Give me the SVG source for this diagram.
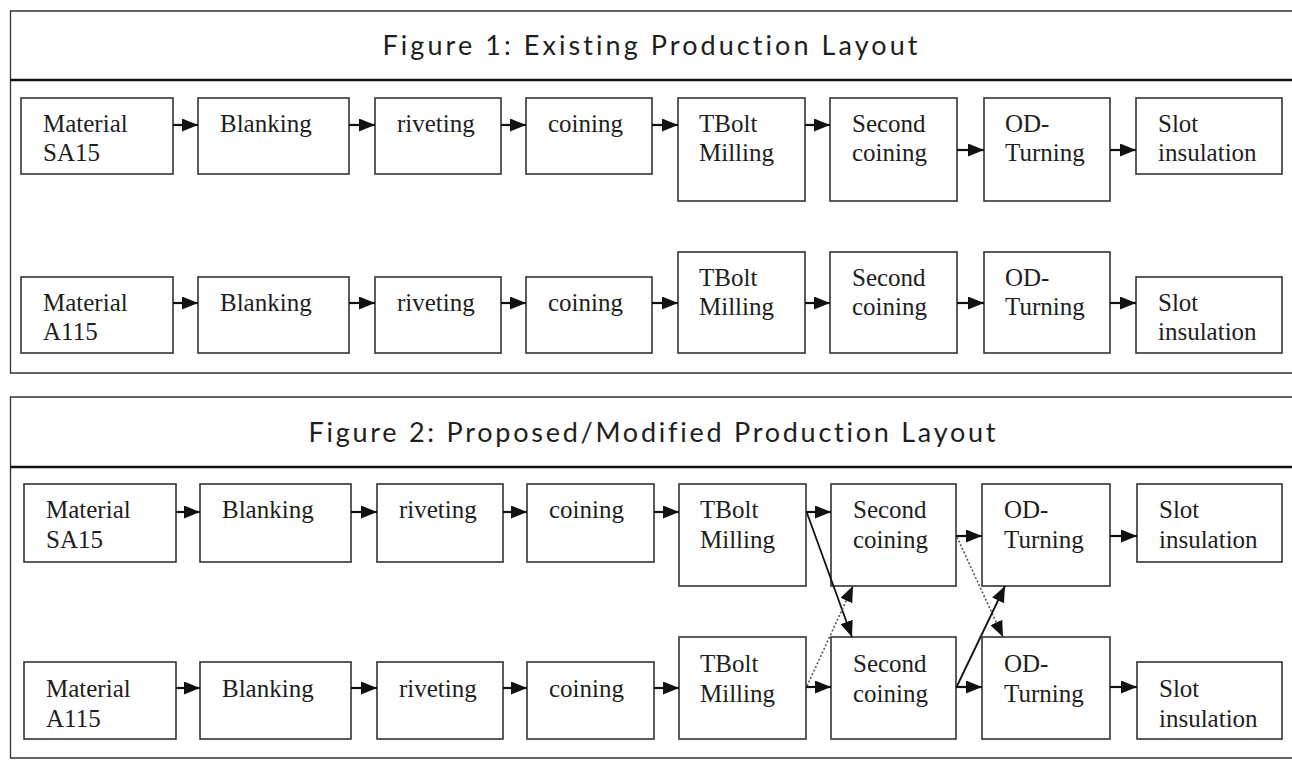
<svg xmlns="http://www.w3.org/2000/svg" width="1292" height="775" viewBox="0 0 1292 775">
<style>
.bg{fill:#ffffff}
.frame{fill:none;stroke:#333;stroke-width:1.3}
.sep{stroke:#111;stroke-width:2.4}
.title{font-family:Lato,"Open Sans","Liberation Sans",sans-serif;font-size:27px;fill:#1e1e1e;text-anchor:middle;font-variant-ligatures:none}
.box{fill:#fff;stroke:#333;stroke-width:1.6}
.lbl{font-family:"Liberation Serif","Times New Roman",serif;font-size:25px;fill:#1e1e1e}
.arr{stroke:#111;stroke-width:2.2;fill:none;marker-end:url(#ah)}
.dot{stroke:#555;stroke-width:1.6;stroke-dasharray:2 2;fill:none;marker-end:url(#ah)}
.sol{stroke:#111;stroke-width:1.8;fill:none;marker-end:url(#ah)}
</style>
<defs>
<marker id="ah" markerUnits="userSpaceOnUse" markerWidth="16" markerHeight="13" viewBox="0 0 16 13" refX="16" refY="6.5" orient="auto">
<path d="M0,0 L16,6.5 L0,13 z" fill="#111"/>
</marker>
</defs>
<rect class="bg" x="0" y="0" width="1292" height="775"/>

<g id="panel1">
<path class="frame" d="M1292,11 H10.5 V373 H1292"/>
<line class="sep" x1="10.5" y1="80" x2="1292" y2="80"/>
<text class="title" x="650" y="55" textLength="535" lengthAdjust="spacing">Figure 1: Existing Production Layout</text>
</g>
<g id="panel2">
<path class="frame" d="M1292,397 H10.5 V758 H1292"/>
<line class="sep" x1="10.5" y1="467" x2="1292" y2="467"/>
<text class="title" x="652" y="442" textLength="687" lengthAdjust="spacing">Figure 2: Proposed/Modified Production Layout</text>
</g>

<!-- Figure 1 row 1 -->
<g id="f1r1-material"><rect class="box" x="21" y="98" width="152" height="76"/><text class="lbl" x="43" y="132">Material<tspan x="43" y="161">SA15</tspan></text></g>
<g id="f1r1-blanking"><rect class="box" x="198" y="98" width="151" height="76"/><text class="lbl" x="220" y="132">Blanking</text></g>
<g id="f1r1-riveting"><rect class="box" x="375" y="98" width="126" height="76"/><text class="lbl" x="397" y="132">riveting</text></g>
<g id="f1r1-coining"><rect class="box" x="526" y="98" width="126" height="76"/><text class="lbl" x="548" y="132">coining</text></g>
<g id="f1r1-tbolt"><rect class="box" x="678" y="98" width="127" height="103"/><text class="lbl" x="699" y="132">TBolt<tspan x="699" y="161">Milling</tspan></text></g>
<g id="f1r1-second"><rect class="box" x="830" y="98" width="127" height="103"/><text class="lbl" x="852" y="132">Second<tspan x="852" y="161">coining</tspan></text></g>
<g id="f1r1-od"><rect class="box" x="984" y="98" width="126" height="103"/><text class="lbl" x="1005" y="132">OD-<tspan x="1005" y="161">Turning</tspan></text></g>
<g id="f1r1-slot"><rect class="box" x="1136" y="98" width="146" height="76"/><text class="lbl" x="1158" y="132">Slot<tspan x="1158" y="161">insulation</tspan></text></g>

<!-- Figure 1 row 2 -->
<g id="f1r2-material"><rect class="box" x="21" y="277" width="152" height="76"/><text class="lbl" x="43" y="311">Material<tspan x="43" y="340">A115</tspan></text></g>
<g id="f1r2-blanking"><rect class="box" x="198" y="277" width="151" height="76"/><text class="lbl" x="220" y="311">Blanking</text></g>
<g id="f1r2-riveting"><rect class="box" x="375" y="277" width="126" height="76"/><text class="lbl" x="397" y="311">riveting</text></g>
<g id="f1r2-coining"><rect class="box" x="526" y="277" width="126" height="76"/><text class="lbl" x="548" y="311">coining</text></g>
<g id="f1r2-tbolt"><rect class="box" x="678" y="252" width="127" height="101"/><text class="lbl" x="699" y="286">TBolt<tspan x="699" y="315">Milling</tspan></text></g>
<g id="f1r2-second"><rect class="box" x="830" y="252" width="127" height="101"/><text class="lbl" x="852" y="286">Second<tspan x="852" y="315">coining</tspan></text></g>
<g id="f1r2-od"><rect class="box" x="984" y="252" width="126" height="101"/><text class="lbl" x="1005" y="286">OD-<tspan x="1005" y="315">Turning</tspan></text></g>
<g id="f1r2-slot"><rect class="box" x="1136" y="277" width="146" height="76"/><text class="lbl" x="1158" y="311">Slot<tspan x="1158" y="340">insulation</tspan></text></g>

<!-- Figure 2 row 1 -->
<g id="f2r1-material"><rect class="box" x="24" y="484" width="152" height="78"/><text class="lbl" x="46" y="518">Material<tspan x="46" y="548">SA15</tspan></text></g>
<g id="f2r1-blanking"><rect class="box" x="200" y="484" width="151" height="78"/><text class="lbl" x="222" y="518">Blanking</text></g>
<g id="f2r1-riveting"><rect class="box" x="377" y="484" width="126" height="78"/><text class="lbl" x="399" y="518">riveting</text></g>
<g id="f2r1-coining"><rect class="box" x="527" y="484" width="127" height="78"/><text class="lbl" x="549" y="518">coining</text></g>
<g id="f2r1-tbolt"><rect class="box" x="679" y="484" width="127" height="102"/><text class="lbl" x="700" y="518">TBolt<tspan x="700" y="548">Milling</tspan></text></g>
<g id="f2r1-second"><rect class="box" x="831" y="484" width="125" height="102"/><text class="lbl" x="853" y="518">Second<tspan x="853" y="548">coining</tspan></text></g>
<g id="f2r1-od"><rect class="box" x="982" y="484" width="128" height="102"/><text class="lbl" x="1004" y="518">OD-<tspan x="1004" y="548">Turning</tspan></text></g>
<g id="f2r1-slot"><rect class="box" x="1137" y="484" width="145" height="78"/><text class="lbl" x="1159" y="518">Slot<tspan x="1159" y="548">insulation</tspan></text></g>

<!-- Figure 2 row 2 -->
<g id="f2r2-material"><rect class="box" x="24" y="662" width="152" height="77"/><text class="lbl" x="46" y="697">Material<tspan x="46" y="727">A115</tspan></text></g>
<g id="f2r2-blanking"><rect class="box" x="200" y="662" width="151" height="77"/><text class="lbl" x="222" y="697">Blanking</text></g>
<g id="f2r2-riveting"><rect class="box" x="377" y="662" width="126" height="77"/><text class="lbl" x="399" y="697">riveting</text></g>
<g id="f2r2-coining"><rect class="box" x="527" y="662" width="127" height="77"/><text class="lbl" x="549" y="697">coining</text></g>
<g id="f2r2-tbolt"><rect class="box" x="679" y="637" width="127" height="102"/><text class="lbl" x="700" y="672">TBolt<tspan x="700" y="702">Milling</tspan></text></g>
<g id="f2r2-second"><rect class="box" x="831" y="637" width="125" height="102"/><text class="lbl" x="853" y="672">Second<tspan x="853" y="702">coining</tspan></text></g>
<g id="f2r2-od"><rect class="box" x="982" y="637" width="128" height="102"/><text class="lbl" x="1004" y="672">OD-<tspan x="1004" y="702">Turning</tspan></text></g>
<g id="f2r2-slot"><rect class="box" x="1137" y="662" width="145" height="77"/><text class="lbl" x="1159" y="697">Slot<tspan x="1159" y="727">insulation</tspan></text></g>

<g id="connectors">
<!-- fig 1 row 1 -->
<line class="arr" x1="173" y1="125" x2="198" y2="125"/>
<line class="arr" x1="349" y1="125" x2="375" y2="125"/>
<line class="arr" x1="501" y1="125" x2="526" y2="125"/>
<line class="arr" x1="652" y1="125" x2="678" y2="125"/>
<line class="arr" x1="805" y1="125" x2="830" y2="125"/>
<line class="arr" x1="957" y1="150" x2="984" y2="150"/>
<line class="arr" x1="1110" y1="150" x2="1136" y2="150"/>
<!-- fig 1 row 2 -->
<line class="arr" x1="173" y1="303" x2="198" y2="303"/>
<line class="arr" x1="349" y1="303" x2="375" y2="303"/>
<line class="arr" x1="501" y1="303" x2="526" y2="303"/>
<line class="arr" x1="652" y1="303" x2="678" y2="303"/>
<line class="arr" x1="805" y1="303" x2="830" y2="303"/>
<line class="arr" x1="957" y1="303" x2="984" y2="303"/>
<line class="arr" x1="1110" y1="303" x2="1136" y2="303"/>
<!-- fig 2 row 1 -->
<line class="arr" x1="176" y1="512" x2="200" y2="512"/>
<line class="arr" x1="351" y1="512" x2="377" y2="512"/>
<line class="arr" x1="503" y1="512" x2="527" y2="512"/>
<line class="arr" x1="654" y1="512" x2="679" y2="512"/>
<line class="arr" x1="806" y1="512" x2="831" y2="512"/>
<line class="arr" x1="956" y1="536" x2="982" y2="536"/>
<line class="arr" x1="1110" y1="536" x2="1137" y2="536"/>
<!-- fig 2 row 2 -->
<line class="arr" x1="176" y1="688" x2="200" y2="688"/>
<line class="arr" x1="351" y1="688" x2="377" y2="688"/>
<line class="arr" x1="503" y1="688" x2="527" y2="688"/>
<line class="arr" x1="654" y1="688" x2="679" y2="688"/>
<line class="arr" x1="806" y1="687" x2="831" y2="687"/>
<line class="arr" x1="956" y1="687" x2="982" y2="687"/>
<line class="arr" x1="1110" y1="687" x2="1137" y2="687"/>
<!-- cross connections -->
<line class="sol" x1="807" y1="513" x2="852" y2="637"/>
<line class="dot" x1="807" y1="686" x2="853" y2="586"/>
<line class="dot" x1="957" y1="537" x2="1003" y2="637"/>
<line class="sol" x1="957" y1="686" x2="1005" y2="586"/>
</g>
</svg>
